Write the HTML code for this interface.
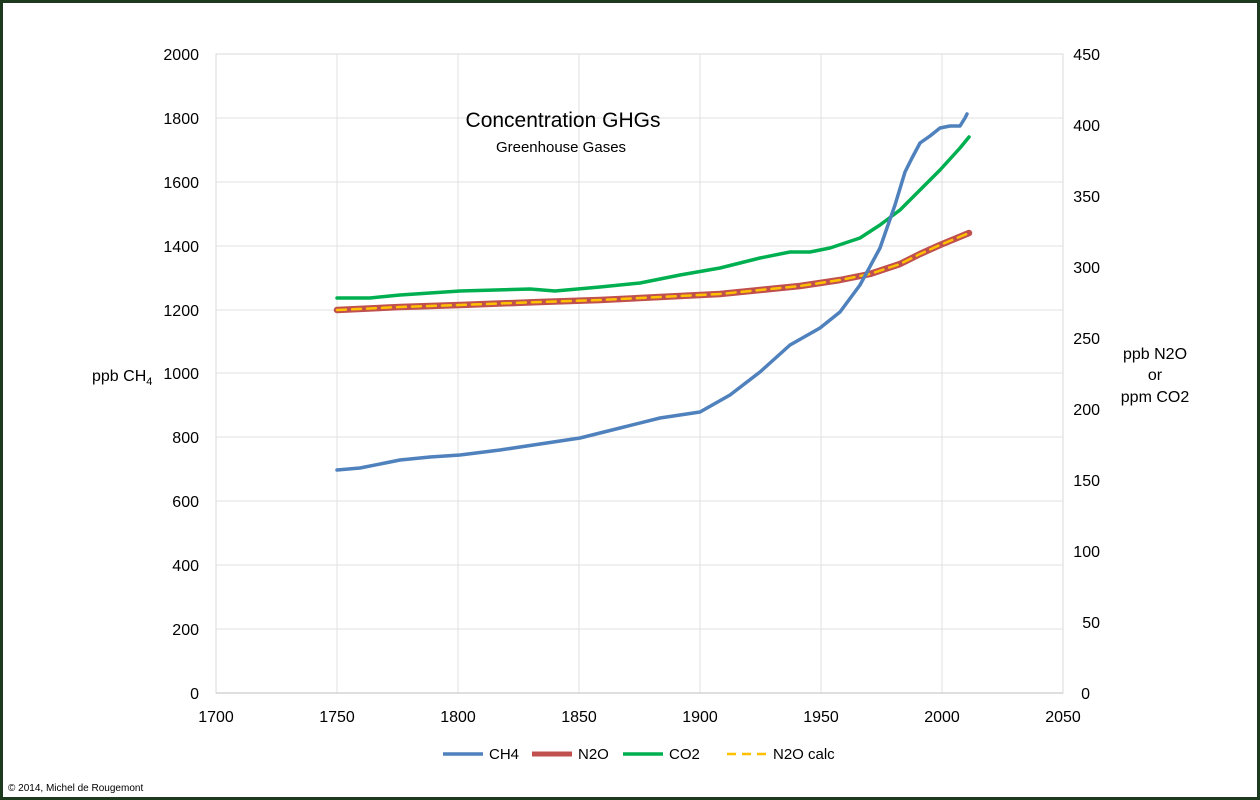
<!DOCTYPE html>
<html><head><style>
html,body{margin:0;padding:0;background:#fff}
svg{display:block}
text{font-family:"Liberation Sans",sans-serif;fill:#000}
</style></head><body>
<svg width="1260" height="800" viewBox="0 0 1260 800">
<rect x="1.5" y="1.5" width="1257" height="797" fill="#fff" stroke="#1d3a1f" stroke-width="3"/>
<rect x="216" y="54" width="847" height="639" fill="#fff" stroke="#d9d9d9" stroke-width="1"/>
<g stroke="#e0e0e0" stroke-width="1">
<line x1="337" y1="54" x2="337" y2="693"/><line x1="458" y1="54" x2="458" y2="693"/>
<line x1="579" y1="54" x2="579" y2="693"/><line x1="700" y1="54" x2="700" y2="693"/>
<line x1="821" y1="54" x2="821" y2="693"/><line x1="942" y1="54" x2="942" y2="693"/>
<line x1="216" y1="118" x2="1063" y2="118"/><line x1="216" y1="182" x2="1063" y2="182"/>
<line x1="216" y1="246" x2="1063" y2="246"/><line x1="216" y1="310" x2="1063" y2="310"/>
<line x1="216" y1="373" x2="1063" y2="373"/><line x1="216" y1="437" x2="1063" y2="437"/>
<line x1="216" y1="501" x2="1063" y2="501"/><line x1="216" y1="565" x2="1063" y2="565"/>
<line x1="216" y1="629" x2="1063" y2="629"/>
</g>
<line x1="216" y1="693" x2="1063" y2="693" stroke="#bfbfbf"/>
<g font-size="16" text-anchor="end">
<text x="199" y="60">2000</text><text x="199" y="124">1800</text><text x="199" y="188">1600</text>
<text x="199" y="252">1400</text><text x="199" y="316">1200</text><text x="199" y="379">1000</text>
<text x="199" y="443">800</text><text x="199" y="507">600</text><text x="199" y="571">400</text>
<text x="199" y="635">200</text><text x="199" y="699">0</text>
</g>
<g font-size="16" text-anchor="end">
<text x="1100" y="60">450</text><text x="1100" y="131">400</text><text x="1100" y="202">350</text>
<text x="1100" y="273">300</text><text x="1100" y="344">250</text><text x="1100" y="415">200</text>
<text x="1100" y="486">150</text><text x="1100" y="557">100</text><text x="1100" y="628">50</text>
<text x="1090" y="699">0</text>
</g>
<g font-size="16" text-anchor="middle">
<text x="216" y="722">1700</text><text x="337" y="722">1750</text><text x="458" y="722">1800</text>
<text x="579" y="722">1850</text><text x="700" y="722">1900</text><text x="821" y="722">1950</text>
<text x="942" y="722">2000</text><text x="1063" y="722">2050</text>
</g>
<text x="92" y="381" font-size="16">ppb CH<tspan font-size="11" dy="4">4</tspan></text>
<g font-size="16" text-anchor="middle">
<text x="1155" y="359">ppb N2O</text><text x="1155" y="380">or</text><text x="1155" y="402">ppm CO2</text>
</g>
<text x="563" y="127" font-size="21" text-anchor="middle">Concentration GHGs</text>
<text x="561" y="152" font-size="15" text-anchor="middle">Greenhouse Gases</text>
<g fill="none" stroke-linecap="round" stroke-linejoin="round">
<polyline stroke="#c0504d" stroke-width="6.5" points="337,310 400,307 460,305 540,302 600,300 660,297 720,294 760,290 800,286 840,280 870,274 900,264 920,254 940,245 969,233"/>
<polyline stroke="#ffc000" stroke-width="2.5" stroke-dasharray="9,6" points="337,310 400,307 460,305 540,302 600,300 660,297 720,294 760,290 800,286 840,280 870,274 900,264 920,254 940,245 969,233"/>
<polyline stroke="#00b050" stroke-width="3.5" points="337,298 370,298 400,295 460,291 530,289 555,291 600,287 640,283 680,275 720,268 760,258 790,252 810,252 830,248 860,238 880,225 900,210 920,190 940,170 960,148 969,137"/>
<polyline stroke="#4f81bd" stroke-width="3.5" points="337,470 360,468 400,460 430,457 460,455 500,450 540,444 580,438 620,428 660,418 700,412 730,395 760,372 790,345 820,328 840,312 860,285 880,248 895,205 905,172 912,158 920,143 930,136 940,128 950,126 960,126 965,118 967,114"/>
</g>
<g font-size="15">
<line x1="443" y1="754" x2="483" y2="754" stroke="#4f81bd" stroke-width="3.5"/><text x="489" y="759">CH4</text>
<line x1="532" y1="754" x2="572" y2="754" stroke="#c0504d" stroke-width="5"/><text x="578" y="759">N2O</text>
<line x1="623" y1="754" x2="663" y2="754" stroke="#00b050" stroke-width="3.5"/><text x="669" y="759">CO2</text>
<line x1="727" y1="754" x2="767" y2="754" stroke="#ffc000" stroke-width="2.5" stroke-dasharray="9,6"/><text x="773" y="759">N2O calc</text>
</g>
<text x="8" y="791" font-size="10">© 2014, Michel de Rougemont</text>
</svg>
</body></html>
